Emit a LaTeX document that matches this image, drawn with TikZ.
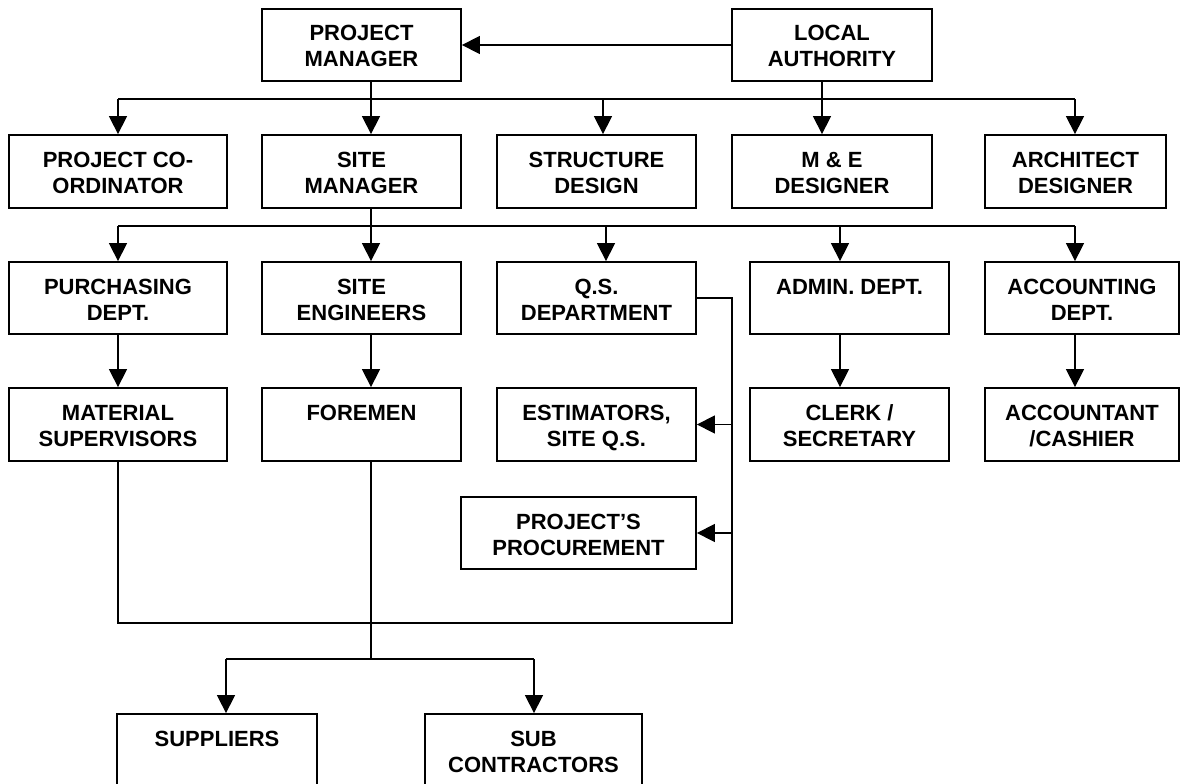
\documentclass[tikz,border=0pt]{standalone}
\usepackage{fontspec}
\setmainfont{Liberation Sans}
\usetikzlibrary{arrows.meta}

\tikzset{
  orgbox/.style={draw, line width=1.8pt, inner sep=0pt},
  conn/.style={line width=1.4pt},
  arr/.style={conn, -{Triangle[length=18pt,width=18pt]}},
}

% \orgbox{name}{left}{top}{right}{bottom}{text}: a box whose text sits at its top
\newcommand{\orgbox}[6]{%
  \node[orgbox] (#1) at ({(#2+#4)/2},{(#3+#5)/2})
    {\parbox[c][\dimexpr #5pt-#3pt\relax][t]{\dimexpr #4pt-#2pt\relax}%
      {\centering\rule{0pt}{32pt}#6\par}};}

\begin{document}
\begin{tikzpicture}[x=1pt, y=-1pt, font=\fontsize{22}{26}\selectfont\bfseries]
\useasboundingbox (0,0) rectangle (1181,784);
\clip (0,0) rectangle (1181,784);

% top level
\orgbox{pm}{262}{9}{461}{81}{PROJECT\\MANAGER}
\orgbox{la}{732}{9}{932}{81}{LOCAL\\AUTHORITY}

% second row
\orgbox{coord}{9}{135}{227}{208}{PROJECT CO-\\ORDINATOR}
\orgbox{sm}{262}{135}{461}{208}{SITE\\MANAGER}
\orgbox{struct}{497}{135}{696}{208}{STRUCTURE\\DESIGN}
\orgbox{me}{732}{135}{932}{208}{M \& E\\DESIGNER}
\orgbox{arch}{985}{135}{1166}{208}{ARCHITECT\\DESIGNER}

% departments
\orgbox{purch}{9}{262}{227}{334}{PURCHASING\\DEPT.}
\orgbox{se}{262}{262}{461}{334}{SITE\\ENGINEERS}
\orgbox{qs}{497}{262}{696}{334}{Q.S.\\DEPARTMENT}
\orgbox{admin}{750}{262}{949}{334}{ADMIN. DEPT.}
\orgbox{acct}{985}{262}{1179}{334}{ACCOUNTING\\DEPT.}

% staff
\orgbox{mat}{9}{388}{227}{461}{MATERIAL\\SUPERVISORS}
\orgbox{fore}{262}{388}{461}{461}{FOREMEN}
\orgbox{est}{497}{388}{696}{461}{ESTIMATORS,\\SITE Q.S.}
\orgbox{clerk}{750}{388}{949}{461}{CLERK /\\SECRETARY}
\orgbox{accnt}{985}{388}{1179}{461}{ACCOUNTANT\\/CASHIER}
\orgbox{proc}{461}{497}{696}{569}{PROJECT’S\\PROCUREMENT}

% outside parties
\orgbox{supp}{117}{714}{317}{787}{SUPPLIERS}
\orgbox{sub}{425}{714}{642}{787}{SUB\\CONTRACTORS}

% column and bus positions
\coordinate (x1) at (118,0);
\coordinate (x2) at (371,0);
\coordinate (x3) at (603,0);
\coordinate (x3b) at (606,0);
\coordinate (x4) at (822,0);
\coordinate (x4b) at (840,0);
\coordinate (x5) at (1075,0);
\coordinate (qx) at (732,0);
\coordinate (xs) at (226,0);
\coordinate (xc) at (534,0);
\coordinate (b1) at (0,99);
\coordinate (b2) at (0,226);
\coordinate (b3) at (0,623);
\coordinate (b4) at (0,659);

% authority to manager
\draw[arr] (la.west) -- (pm.east);

% manager and authority to designers
\draw[conn] (pm.south -| x2) -- (x2 |- b1);
\draw[conn] (la.south -| x4) -- (x4 |- b1);
\draw[conn] (x1 |- b1) -- (x5 |- b1);
\foreach \c/\n in {x1/coord, x2/sm, x3/struct, x4/me, x5/arch}
  \draw[arr] (\c |- b1) -- (\n.north -| \c);

% site manager to departments
\draw[conn] (sm.south -| x2) -- (x2 |- b2);
\draw[conn] (x1 |- b2) -- (x5 |- b2);
\foreach \c/\n in {x1/purch, x2/se, x3b/qs, x4b/admin, x5/acct}
  \draw[arr] (\c |- b2) -- (\n.north -| \c);

% departments to staff
\foreach \c/\a/\b in {x1/purch/mat, x2/se/fore, x4b/admin/clerk, x5/acct/accnt}
  \draw[arr] (\a.south -| \c) -- (\b.north -| \c);

% Q.S. department loop
\draw[conn] (qs.east) -| (qx |- b3) -| (mat.south -| x1);
\draw[arr] (qx |- est.east) -- (est.east);
\draw[arr] (qx |- proc.east) -- (proc.east);

% foremen to suppliers and sub contractors
\draw[conn] (fore.south -| x2) -- (x2 |- b4);
\draw[conn] (xs |- b4) -- (xc |- b4);
\draw[arr] (xs |- b4) -- (supp.north -| xs);
\draw[arr] (xc |- b4) -- (sub.north -| xc);
\end{tikzpicture}
\end{document}
